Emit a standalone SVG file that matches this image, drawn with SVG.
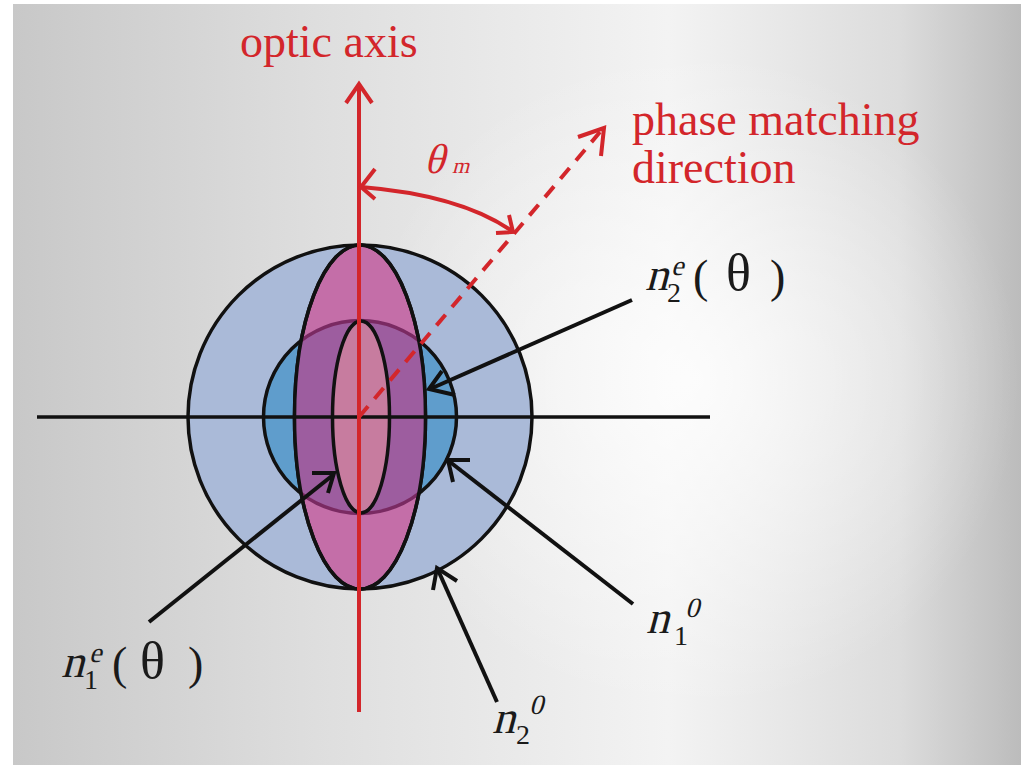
<svg xmlns="http://www.w3.org/2000/svg" width="1021" height="765" viewBox="0 0 1021 765">
<defs>
<linearGradient id="bg" x1="13" y1="0" x2="1021" y2="0" gradientUnits="userSpaceOnUse">
<stop offset="0" stop-color="#c8c8c8"/>
<stop offset="0.3" stop-color="#dedede"/>
<stop offset="0.65" stop-color="#f3f3f3"/>
<stop offset="0.88" stop-color="#dcdcdc"/>
<stop offset="1" stop-color="#bcbcbc"/>
</linearGradient>
<radialGradient id="glow" cx="690" cy="380" r="330" gradientUnits="userSpaceOnUse">
<stop offset="0" stop-color="#ffffff" stop-opacity="0.8"/>
<stop offset="1" stop-color="#ffffff" stop-opacity="0"/>
</radialGradient>
<clipPath id="pinkClip"><ellipse cx="360" cy="417" rx="65.5" ry="172"/></clipPath>
<style>
.blk{stroke:#111;stroke-width:3.5;}
.ptr{stroke:#111;stroke-width:4;fill:none;stroke-linecap:butt;}
.red{stroke:#d3262b;fill:none;stroke-width:4;}
text{font-family:"Liberation Serif","Times New Roman",serif;}
.redt{fill:#d3262b;}
.lab{fill:#1a1a1a;}
.big{font-size:46px;}
.sm{font-size:28px;}
.th{font-size:52px;}
</style>
</defs>
<rect x="0" y="0" width="1021" height="765" fill="#ffffff"/>
<rect x="13" y="4" width="1008" height="761" fill="url(#bg)"/>
<rect x="13" y="4" width="1008" height="761" fill="url(#glow)"/>

<g id="ellipsoids">
<circle id="n2o-surface" cx="360" cy="417" r="172" fill="#aabad8" class="blk"/>
<circle id="n1o-surface" cx="360" cy="417" r="96.5" fill="#5f9dcc" class="blk"/>
<ellipse id="n2e-surface" cx="360" cy="417" rx="65.5" ry="172" fill="#c46ea8" class="blk"/>
<circle cx="360" cy="417" r="96.5" fill="#9d5d9f" stroke="#7a2a62" stroke-width="3.5" clip-path="url(#pinkClip)"/>
<ellipse cx="360" cy="417" rx="65.5" ry="172" fill="none" class="blk"/>
<ellipse id="n1e-surface" cx="361" cy="417" rx="28.5" ry="96" fill="#c77c9f" class="blk"/>
</g>

<g id="connectors">
<line x1="37" y1="417" x2="710" y2="417" class="blk"/>
<line x1="359" y1="712" x2="359" y2="86" stroke="#d3262b" stroke-width="4"/>
<polyline points="346,103 359,84 372,103" class="red" stroke-width="4.5"/>
<line x1="359" y1="417" x2="600" y2="132" class="red" stroke-width="6" stroke-dasharray="14,10"/>
<polyline points="578,137 604,128 601,156" class="red" stroke-width="6"/>
<path d="M361,187 Q460,195 512,231" class="red" stroke-width="3.5"/>
<polyline points="375,169 361,187 375,199" class="red" stroke-width="3.5"/>
<polyline points="509,215 513,232 496,233" class="red" stroke-width="3.5"/>
<line x1="632" y1="300" x2="430" y2="389" class="ptr"/>
<polyline points="442,371 429,389 455,395" class="ptr"/>
<line x1="633" y1="604" x2="450" y2="462" class="ptr"/>
<polyline points="470,460 448,460 453,482" class="ptr"/>
<line x1="497" y1="702" x2="438" y2="570" class="ptr"/>
<polyline points="457,581 437,568 433,590" class="ptr"/>
<line x1="149" y1="622" x2="333" y2="475" class="ptr"/>
<polyline points="312,473 334,473 328,493" class="ptr"/>
</g>

<g id="label-optic-axis"><text x="240" y="57" class="redt big">optic axis</text></g>
<g id="label-phase"><text x="632" y="135" class="redt big">phase matching</text><text x="632" y="183" class="redt big">direction</text></g>
<g id="label-theta-m">
<text transform="translate(424,173) skewX(-15)" class="redt" style="font-size:42px">θ</text>
<text transform="translate(452,173) skewX(-15)" class="redt" style="font-size:22px">m</text>
</g>
<g id="label-n2e">
<text transform="translate(645,290) skewX(-15)" class="lab big">n</text>
<text x="667" y="302" class="lab sm">2</text>
<text transform="translate(671,275) skewX(-15)" class="lab sm">e</text>
<text x="693" y="292" class="lab big">(</text>
<text x="726" y="290" class="lab th">θ</text>
<text x="770" y="292" class="lab big">)</text>
</g>
<g id="label-n1e">
<text transform="translate(61,677) skewX(-15)" class="lab big">n</text>
<text x="84" y="689" class="lab sm">1</text>
<text transform="translate(89,662) skewX(-15)" class="lab sm">e</text>
<text x="112" y="679" class="lab big">(</text>
<text x="140" y="678" class="lab th">θ</text>
<text x="188" y="679" class="lab big">)</text>
</g>
<g id="label-n1o">
<text transform="translate(646,633) skewX(-15)" class="lab big">n</text>
<text x="674" y="645" class="lab sm">1</text>
<text transform="translate(685,617) skewX(-15)" class="lab sm">0</text>
</g>
<g id="label-n2o">
<text transform="translate(492,733) skewX(-15)" class="lab big">n</text>
<text x="516" y="744" class="lab sm">2</text>
<text transform="translate(529,714) skewX(-15)" class="lab sm">0</text>
</g>
</svg>
